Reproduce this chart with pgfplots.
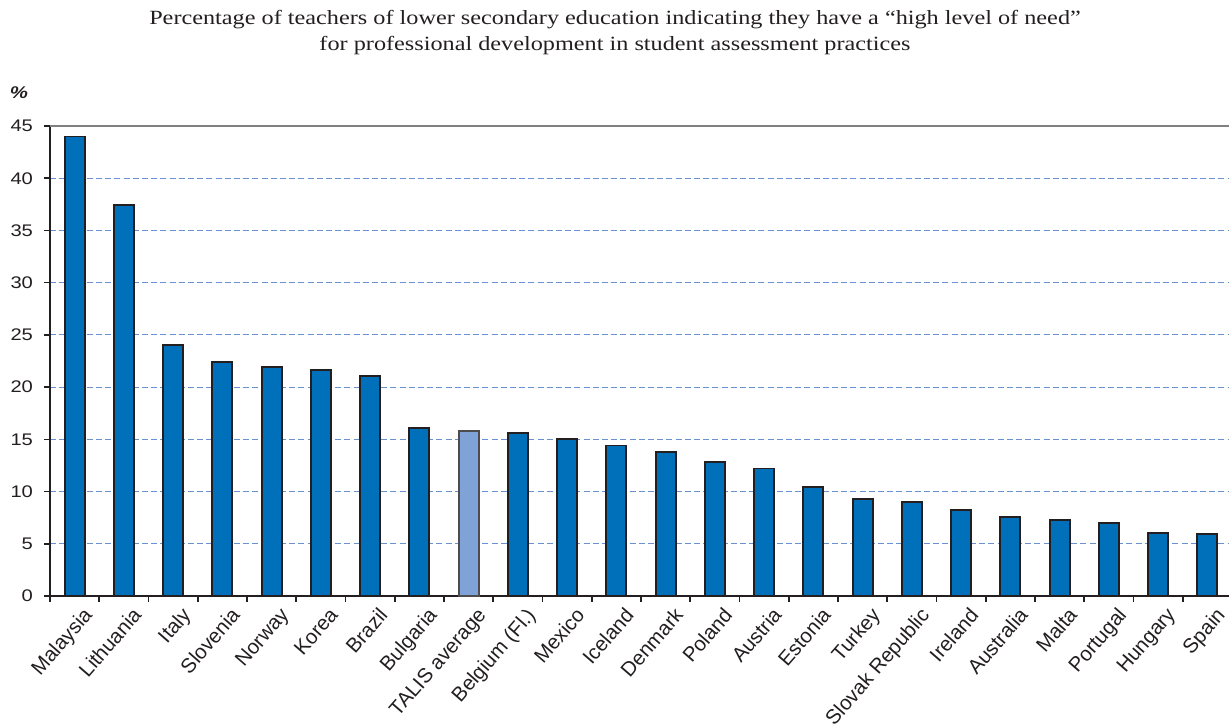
\documentclass[border=0pt]{standalone}
\usepackage{pgfplots}
\pgfplotsset{compat=1.18}
\usepackage{fontspec}
\setmainfont{Liberation Serif}[FakeStretch=1.2]
\setsansfont{Liberation Sans}
\newfontfamily\stsans{Liberation Sans}[FakeStretch=1.2]
\definecolor{barblue}{RGB}{0,112,186}
\definecolor{talis}{RGB}{127,163,214}
\definecolor{gridblue}{RGB}{105,145,210}
\definecolor{txt}{RGB}{35,31,32}
\begin{document}
\begin{tikzpicture}[x=1pt,y=1pt]
\path[use as bounding box] (0,0) rectangle (614.5,363.5);
\node[font=\fontsize{10.1}{13}\selectfont, align=center, text=txt] at (307.5,347) {Percentage of teachers of lower secondary education indicating they have a “high level of need”\\for professional development in student assessment practices};
\node[font=\stsans\bfseries\itshape\fontsize{8.5}{9}\selectfont, text=txt] at (9.5,317) {\%};
\begin{axis}[
  at={(25pt,65.5pt)}, anchor=south west,
  scale only axis, width=591pt, height=235pt,
  xmin=-0.5, xmax=23.5, ymin=0, ymax=45,
  ytick={0,5,...,45},
  axis x line*=bottom, axis y line*=left,
  axis line style={line width=1pt, txt},
  ymajorgrids,
  major grid style={gridblue, dash pattern=on 3pt off 1.6pt, line width=0.6pt},
  tick align=outside,
  major tick length=3pt, minor tick length=3pt,
  tick style={txt, line width=0.8pt},
  major x tick style={draw=none},
  xtick={0,...,23},
  minor xtick={-0.5,0.5,...,23.5},
  xticklabels={Malaysia,Lithuania,Italy,Slovenia,Norway,Korea,Brazil,Bulgaria,TALIS average,Belgium (Fl.),Mexico,Iceland,Denmark,Poland,Austria,Estonia,Turkey,Slovak Republic,Ireland,Australia,Malta,Portugal,Hungary,Spain},
  xticklabel style={rotate=49, anchor=north east, font=\sffamily\fontsize{10.2}{10}\selectfont, text=txt, inner sep=1pt, xshift=2pt, yshift=-3pt},
  yticklabel style={font=\stsans\fontsize{8.4}{10}\selectfont, text=txt, xshift=-2pt},
  /pgf/number format/assume math mode=true,
  ybar, bar width=10pt,
  clip=false,
]
\addplot[ybar, bar shift=0pt, fill=barblue, draw=txt, line width=0.9pt] coordinates {
(0,44.0) (1,37.4) (2,24.0) (3,22.4) (4,21.9) (5,21.6) (6,21.1) (7,16.1)
(9,15.6) (10,15.0) (11,14.4) (12,13.8) (13,12.8) (14,12.2) (15,10.4) (16,9.3)
(17,9.0) (18,8.2) (19,7.6) (20,7.3) (21,7.0) (22,6.0) (23,5.9)};
\addplot[ybar, bar shift=0pt, fill=talis, draw=txt!80, line width=0.9pt] coordinates {(8,15.8)};
\draw[gray, line width=0.8pt] (rel axis cs:0,1) -- (rel axis cs:1,1);
\end{axis}
\end{tikzpicture}
\end{document}
